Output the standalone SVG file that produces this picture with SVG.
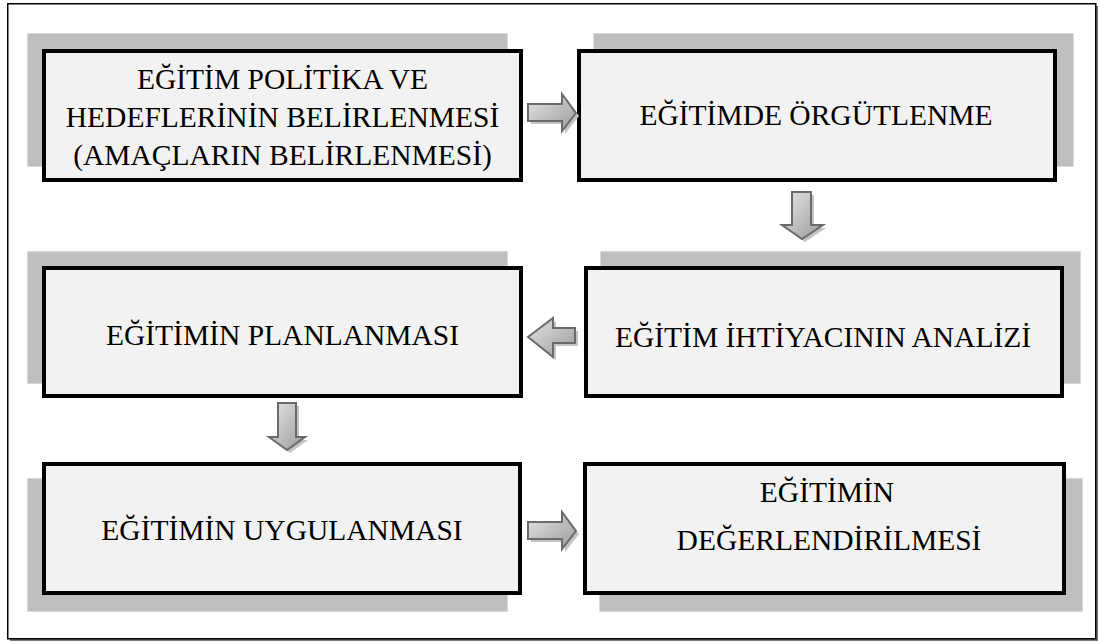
<svg xmlns="http://www.w3.org/2000/svg" width="1099" height="642" viewBox="0 0 1099 642">
<defs>
<linearGradient id="gh" x1="0" y1="0" x2="1" y2="1">
<stop offset="0" stop-color="#e6e6e6"/>
<stop offset="1" stop-color="#9a9a9a"/>
</linearGradient>
<style>
.sh{fill:#bfbfbf;stroke:#dadada;stroke-width:1}
.bx{fill:#f2f2f2;stroke:#000;stroke-width:4}
.t{font-family:"Liberation Serif","Times New Roman",serif;font-size:29.5px;fill:#000;text-anchor:middle}
.ar{fill:url(#gh);stroke:#6a6a6a;stroke-width:2;stroke-linejoin:miter}
.as{fill:#c4c4c4;stroke:none}
</style>
</defs>
<rect x="0" y="0" width="1099" height="642" fill="#fff"/>
<rect x="10" y="6" width="1088" height="635" fill="#7a7a7a"/>
<rect x="7.75" y="3.75" width="1088" height="635" fill="#fff" stroke="#000" stroke-width="1.5"/>

<g id="node1">
<rect class="sh" x="27.5" y="33.5" width="480" height="133"/>
<rect class="bx" x="44" y="51" width="477" height="129"/>
<text class="t" x="282.5" y="89">EĞİTİM POLİTİKA VE</text>
<text class="t" x="282.5" y="127">HEDEFLERİNİN BELİRLENMESİ</text>
<text class="t" x="282.5" y="165">(AMAÇLARIN BELİRLENMESİ)</text>
</g>
<g id="node2">
<rect class="sh" x="593.5" y="33.5" width="480" height="133"/>
<rect class="bx" x="579" y="51" width="476" height="129"/>
<text class="t" x="816" y="125">EĞİTİMDE ÖRGÜTLENME</text>
</g>
<g id="node3">
<rect class="sh" x="27.5" y="251.5" width="480" height="132"/>
<rect class="bx" x="44" y="268" width="477" height="128"/>
<text class="t" x="282.5" y="345">EĞİTİMİN PLANLANMASI</text>
</g>
<g id="node4">
<rect class="sh" x="600.5" y="251.5" width="480" height="132"/>
<rect class="bx" x="586" y="268" width="476" height="128"/>
<text class="t" x="823" y="347">EĞİTİM İHTİYACININ ANALİZİ</text>
</g>
<g id="node5">
<rect class="sh" x="27.5" y="478.5" width="480" height="133"/>
<rect class="bx" x="44" y="464" width="476" height="129"/>
<text class="t" x="282" y="540">EĞİTİMİN UYGULANMASI</text>
</g>
<g id="node6">
<rect class="sh" x="599.5" y="478.5" width="483" height="133"/>
<rect class="bx" x="585" y="464" width="479" height="129"/>
<text class="t" x="827" y="502">EĞİTİMİN</text>
<text class="t" x="829" y="550">DEĞERLENDİRİLMESİ</text>
</g>

<g id="connectors">
<g transform="translate(3,3)">
<path class="as" d="M528,104 L562,104 L562,94 L576,113 L562,131 L562,121 L528,121 Z"/>
<path class="as" d="M792,192 L811,192 L811,225 L823,225 L802,239 L782,225 L792,225 Z"/>
<path class="as" d="M528,337 L553,318 L553,328 L575,328 L575,343 L553,343 L553,357 Z"/>
<path class="as" d="M278,403 L296,403 L296,437 L305,437 L287,450 L269,437 L278,437 Z"/>
<path class="as" d="M528,522 L562,522 L562,512 L576,531 L562,549 L562,539 L528,539 Z"/>
</g>
<path class="ar" d="M528,104 L562,104 L562,94 L576,113 L562,131 L562,121 L528,121 Z"/>
<path class="ar" d="M792,192 L811,192 L811,225 L823,225 L802,239 L782,225 L792,225 Z"/>
<path class="ar" d="M528,337 L553,318 L553,328 L575,328 L575,343 L553,343 L553,357 Z"/>
<path class="ar" d="M278,403 L296,403 L296,437 L305,437 L287,450 L269,437 L278,437 Z"/>
<path class="ar" d="M528,522 L562,522 L562,512 L576,531 L562,549 L562,539 L528,539 Z"/>
</g>
</svg>
